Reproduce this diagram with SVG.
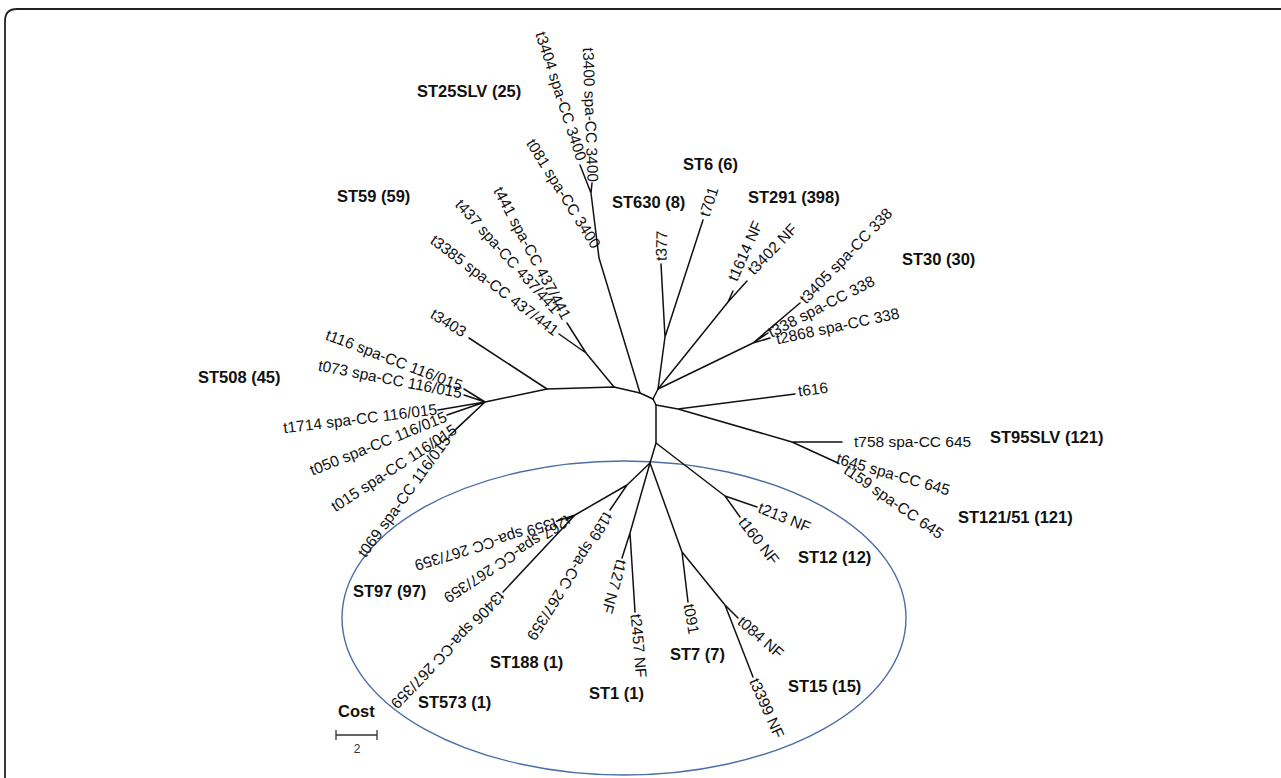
<svg xmlns="http://www.w3.org/2000/svg" width="1281" height="778" viewBox="0 0 1281 778">
<style>
.br{fill:none;stroke:#111;stroke-width:1.5;stroke-linecap:round;stroke-linejoin:round}
.lf{font-family:"Liberation Sans",Arial,sans-serif;font-size:15.5px;fill:#111;dominant-baseline:central}
.e{text-anchor:end}
.g{font-family:"Liberation Sans",Arial,sans-serif;font-size:16.5px;font-weight:bold;fill:#111}
</style>
<rect width="1281" height="778" fill="#fff"/>
<path d="M5 778 V21 Q5 9 17 9 H1281" fill="none" stroke="#222" stroke-width="1.8"/>
<ellipse id="cluster-ellipse" cx="624" cy="618" rx="282" ry="157" fill="none" stroke="#4a6fa5" stroke-width="1.4"/>
<g id="connectors" class="br">
<path d="M653 399 L656 405 L656 443"/>
<path d="M653 399 L640 393 L614 387 L547 389 L485 402"/>
<path d="M547 389 L469 338"/>
<path d="M614 387 L586 353 L559 334 M586 353 L567 323"/>
<path d="M640 393 L599 258 L598 250 M599 258 L591 193 L580 165 M591 193 L592 183"/>
<path d="M653 399 L658 389 L665 337 L661 264 M665 337 L703 220"/>
<path d="M658 389 L728 302 L733 291 M728 302 L747 281"/>
<path d="M658 389 L753 343 L800 303 M753 343 L768 333 M753 343 L770 338"/>
<path d="M656 405 L678 409 L795 394 M678 409 L792 442 L842 442 M792 442 L838 463"/>
<path d="M656 443 L650 463 M656 443 L725 496 L757 507 M725 496 L740 517"/>
<path d="M650 463 L627 485 L610 510 M627 485 L575 515 L557 521 M575 515 L566 520 M575 515 L503 592"/>
<path d="M650 463 L630 533 L622 558 M630 533 L635 612"/>
<path d="M650 463 L682 552 L688 602 M682 552 L725 605 L738 618 M725 605 L753 677"/>
<path d="M485 402 L464 389 M485 402 L464 395 M485 402 L438 410 M485 402 L447 415 M485 402 L456 429 M485 402 L449 436"/>
</g>
<g id="leaf-t3404"><text class="lf e" x="582" y="160" transform="rotate(72 582 160)">t3404 spa-CC 3400</text></g>
<g id="leaf-t3400"><text class="lf e" x="593" y="182" transform="rotate(88 593 182)">t3400 spa-CC 3400</text></g>
<g id="leaf-t081"><text class="lf e" x="597" y="247" transform="rotate(58 597 247)">t081 spa-CC 3400</text></g>
<g id="leaf-t441"><text class="lf e" x="567" y="318" transform="rotate(62 567 318)">t441 spa-CC 437/441</text></g>
<g id="leaf-t437"><text class="lf e" x="557" y="311" transform="rotate(48 557 311)">t437 spa-CC 437/441</text></g>
<g id="leaf-t3385"><text class="lf e" x="557" y="332" transform="rotate(37 557 332)">t3385 spa-CC 437/441</text></g>
<g id="leaf-t3403"><text class="lf e" x="465" y="333" transform="rotate(32 465 333)">t3403</text></g>
<g id="leaf-t116"><text class="lf e" x="462" y="386" transform="rotate(21 462 386)">t116 spa-CC 116/015</text></g>
<g id="leaf-t073"><text class="lf e" x="462" y="393" transform="rotate(11 462 393)">t073 spa-CC 116/015</text></g>
<g id="leaf-t1714"><text class="lf e" x="437" y="409" transform="rotate(-7 437 409)">t1714 spa-CC 116/015</text></g>
<g id="leaf-t050"><text class="lf e" x="446" y="416" transform="rotate(-22 446 416)">t050 spa-CC 116/015</text></g>
<g id="leaf-t015"><text class="lf e" x="455" y="428" transform="rotate(-33 455 428)">t015 spa-CC 116/015</text></g>
<g id="leaf-t069"><text class="lf e" x="447" y="437" transform="rotate(-54 447 437)">t069 spa-CC 116/015</text></g>
<g id="leaf-t377"><text class="lf" x="661" y="261" transform="rotate(-89 661 261)">t377</text></g>
<g id="leaf-t701"><text class="lf" x="704" y="216" transform="rotate(-72 704 216)">t701</text></g>
<g id="leaf-t1614"><text class="lf" x="732" y="280" transform="rotate(-66 732 280)">t1614 NF</text></g>
<g id="leaf-t3402"><text class="lf" x="750" y="272" transform="rotate(-46 750 272)">t3402 NF</text></g>
<g id="leaf-t3405"><text class="lf" x="802" y="301" transform="rotate(-46 802 301)">t3405 spa-CC 338</text></g>
<g id="leaf-t338"><text class="lf" x="769" y="333" transform="rotate(-27 769 333)">t338 spa-CC 338</text></g>
<g id="leaf-t2868"><text class="lf" x="776" y="339" transform="rotate(-12 776 339)">t2868 spa-CC 338</text></g>
<g id="leaf-t616"><text class="lf" x="798" y="391" transform="rotate(-7 798 391)">t616</text></g>
<g id="leaf-t758"><text class="lf" x="854" y="441">t758 spa-CC 645</text></g>
<g id="leaf-t645"><text class="lf" x="837" y="458" transform="rotate(16 837 458)">t645 spa-CC 645</text></g>
<g id="leaf-t159"><text class="lf" x="846" y="468" transform="rotate(35 846 468)">t159 spa-CC 645</text></g>
<g id="leaf-t213"><text class="lf" x="759" y="507" transform="rotate(22 759 507)">t213 NF</text></g>
<g id="leaf-t160"><text class="lf" x="742" y="519" transform="rotate(52 742 519)">t160 NF</text></g>
<g id="leaf-t189"><text class="lf" x="609" y="514" transform="rotate(122 609 514)">t189 spa-CC 267/359</text></g>
<g id="leaf-t359"><text class="lf" x="556" y="523" transform="rotate(163 556 523)">t359 spa-CC 267/359</text></g>
<g id="leaf-t267"><text class="lf" x="569" y="519" transform="rotate(147 569 519)">t267 spa-CC 267/359</text></g>
<g id="leaf-t3406"><text class="lf" x="502" y="594" transform="rotate(134 502 594)">t3406 spa-CC 267/359</text></g>
<g id="leaf-t127"><text class="lf" x="622" y="560" transform="rotate(106 622 560)">t127 NF</text></g>
<g id="leaf-t2457"><text class="lf" x="636" y="614" transform="rotate(85 636 614)">t2457 NF</text></g>
<g id="leaf-t091"><text class="lf" x="689" y="604" transform="rotate(80 689 604)">t091</text></g>
<g id="leaf-t084"><text class="lf" x="740" y="619" transform="rotate(41 740 619)">t084 NF</text></g>
<g id="leaf-t3399"><text class="lf" x="754" y="679" transform="rotate(66 754 679)">t3399 NF</text></g>
<g id="group-labels">
<text class="g" x="417" y="97">ST25SLV (25)</text>
<text class="g" x="683" y="170">ST6 (6)</text>
<text class="g" x="612" y="208">ST630 (8)</text>
<text class="g" x="748" y="203">ST291 (398)</text>
<text class="g" x="902" y="265">ST30 (30)</text>
<text class="g" x="337" y="202">ST59 (59)</text>
<text class="g" x="198" y="383">ST508 (45)</text>
<text class="g" x="990" y="443">ST95SLV (121)</text>
<text class="g" x="958" y="523">ST121/51 (121)</text>
<text class="g" x="798" y="563">ST12 (12)</text>
<text class="g" x="353" y="597">ST97 (97)</text>
<text class="g" x="490" y="668">ST188 (1)</text>
<text class="g" x="418" y="708">ST573 (1)</text>
<text class="g" x="589" y="699">ST1 (1)</text>
<text class="g" x="670" y="660">ST7 (7)</text>
<text class="g" x="788" y="692">ST15 (15)</text>
</g>
<g id="scale-bar">
<text class="g" x="338" y="717">Cost</text>
<path d="M336 735 H377 M336 730 V740 M377 730 V740" stroke="#333" stroke-width="1.3" fill="none"/>
<text x="357" y="753" text-anchor="middle" font-family="Liberation Sans, Arial, sans-serif" font-size="12" fill="#333">2</text>
</g>
</svg>
